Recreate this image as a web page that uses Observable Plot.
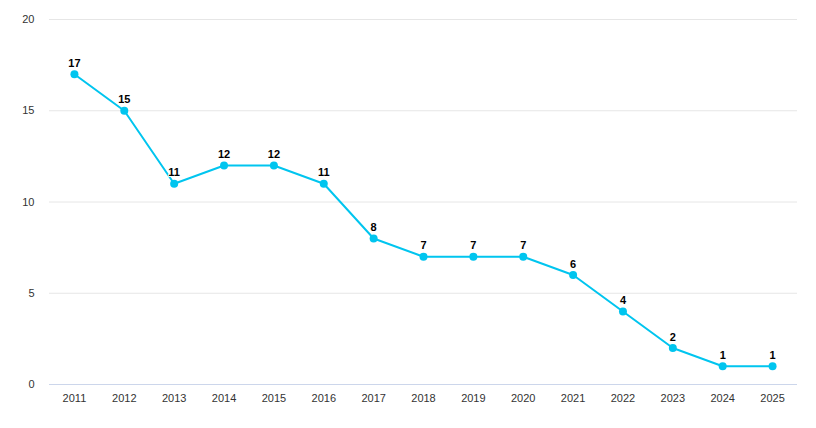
<!DOCTYPE html>
<html>
<head>
<meta charset="utf-8">
<script src="https://cdn.jsdelivr.net/npm/d3@7"></script>
<script src="https://cdn.jsdelivr.net/npm/@observablehq/plot@0.6"></script>
<style>
  html, body { margin: 0; padding: 0; background: #fff; }
  #chart { width: 816px; height: 428px; }
</style>
</head>
<body>
<div id="chart"></div>
<script>
const years = ["2011","2012","2013","2014","2015","2016","2017","2018","2019","2020","2021","2022","2023","2024","2025"];
const values = [17, 15, 11, 12, 12, 11, 8, 7, 7, 7, 6, 4, 2, 1, 1];
const yTicks = [0, 5, 10, 15, 20];

const data = years.map((y, i) => ({year: y, value: values[i]}));
const lineColor = "#00c5ef";

const chart = Plot.plot({
  width: 816,
  height: 428,
  marginTop: 19,
  marginBottom: 44,
  marginLeft: 49,
  marginRight: 19,
  style: {fontFamily: "Liberation Sans, Arial, sans-serif", fontSize: "11px", color: "#333333", background: "#ffffff"},
  x: {type: "point", domain: years, padding: 0.5, round: false, label: null},
  y: {domain: [0, 20], label: null},
  marks: [
    Plot.ruleY(yTicks.filter(d => d > 0), {stroke: "#e6e6e6", strokeWidth: 1}),
    Plot.ruleY([0], {stroke: "#ccd6eb", strokeWidth: 1}),
    Plot.axisY({ticks: yTicks, tickSize: 0, tickPadding: 15, label: null, fill: "#333333", fontSize: 11}),
    Plot.axisX({tickSize: 0, tickPadding: 10, label: null, fill: "#333333", fontSize: 11}),
    Plot.line(data, {x: "year", y: "value", stroke: lineColor, strokeWidth: 2}),
    Plot.dot(data, {x: "year", y: "value", r: 4, fill: lineColor, stroke: null}),
    Plot.text(data, {x: "year", y: "value", text: d => String(d.value), dy: -11, fill: "#000000", stroke: "#ffffff", strokeWidth: 2, fontWeight: "bold", fontSize: 11})
  ]
});
document.getElementById("chart").appendChild(chart);
</script>
</body>
</html>
